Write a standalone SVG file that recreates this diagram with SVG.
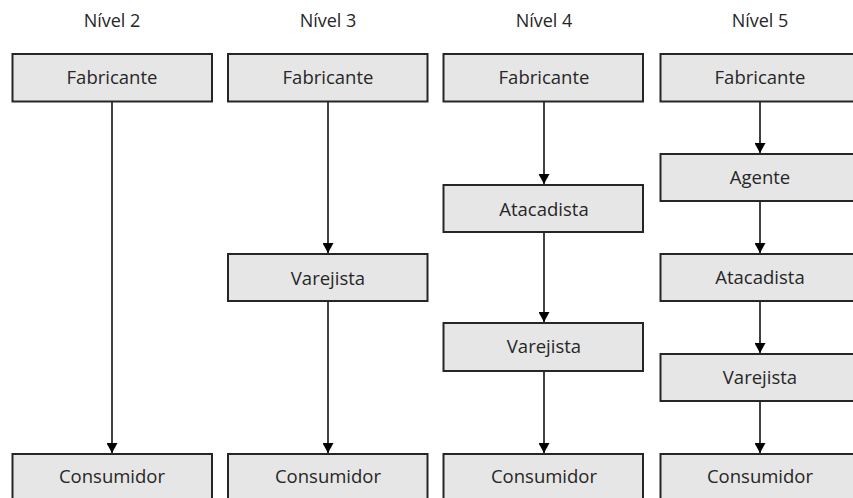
<svg xmlns="http://www.w3.org/2000/svg" width="853" height="498" viewBox="0 0 853 498">
<style>
.box{fill:#e6e6e6;stroke:#262626;stroke-width:2}
.t{font-family:"Open Sans","Liberation Sans",sans-serif;font-size:18.5px;fill:#262626;text-anchor:middle;dominant-baseline:central}
.h{font-family:"Open Sans","Liberation Sans",sans-serif;font-size:18px;fill:#262626;text-anchor:middle;dominant-baseline:central}
.c{stroke:#000;stroke-width:1.5;fill:none;marker-end:url(#ah)}
</style>
<defs>
<marker id="ah" markerWidth="11" markerHeight="11" refX="10" refY="5.5" orient="auto" markerUnits="userSpaceOnUse" viewBox="0 0 10 11">
<path d="M0,0 L10,5.5 L0,11 Z" fill="#000"/>
</marker>
</defs>
<rect width="853" height="498" fill="#fff"/>
<g id="headers">
<text class="h" x="112" y="20">Nível 2</text>
<text class="h" x="328" y="20">Nível 3</text>
<text class="h" x="544" y="20">Nível 4</text>
<text class="h" x="760" y="20">Nível 5</text>
</g>
<g id="connectors">
<line class="c" x1="112" y1="101.5" x2="112" y2="453"/>
<line class="c" x1="328" y1="101.5" x2="328" y2="253"/>
<line class="c" x1="328" y1="301" x2="328" y2="453"/>
<line class="c" x1="544" y1="101.5" x2="544" y2="184"/>
<line class="c" x1="544" y1="232" x2="544" y2="322"/>
<line class="c" x1="544" y1="371" x2="544" y2="453"/>
<line class="c" x1="760" y1="101.5" x2="760" y2="153"/>
<line class="c" x1="760" y1="201" x2="760" y2="253"/>
<line class="c" x1="760" y1="301" x2="760" y2="353"/>
<line class="c" x1="760" y1="401" x2="760" y2="453"/>
</g>
<g id="n2-fab"><rect class="box" x="12.5" y="54" width="199.5" height="47.5"/><text class="t" x="112" y="76">Fabricante</text></g>
<g id="n2-con"><rect class="box" x="12.5" y="454" width="199.5" height="47.5"/><text class="t" x="112" y="475">Consumidor</text></g>
<g id="n3-fab"><rect class="box" x="228" y="54" width="199.5" height="47.5"/><text class="t" x="328" y="76">Fabricante</text></g>
<g id="n3-var"><rect class="box" x="228" y="254" width="199.5" height="47"/><text class="t" x="328" y="277">Varejista</text></g>
<g id="n3-con"><rect class="box" x="228" y="454" width="199.5" height="47.5"/><text class="t" x="328" y="475">Consumidor</text></g>
<g id="n4-fab"><rect class="box" x="443.5" y="54" width="199.5" height="47.5"/><text class="t" x="544" y="76">Fabricante</text></g>
<g id="n4-ata"><rect class="box" x="443.5" y="185" width="199.5" height="47"/><text class="t" x="544" y="208">Atacadista</text></g>
<g id="n4-var"><rect class="box" x="443.5" y="323" width="199.5" height="48"/><text class="t" x="544" y="345">Varejista</text></g>
<g id="n4-con"><rect class="box" x="443.5" y="454" width="199.5" height="47.5"/><text class="t" x="544" y="475">Consumidor</text></g>
<g id="n5-fab"><rect class="box" x="660.5" y="54" width="200" height="47.5"/><text class="t" x="760" y="76">Fabricante</text></g>
<g id="n5-age"><rect class="box" x="660.5" y="154" width="200" height="47"/><text class="t" x="760" y="176">Agente</text></g>
<g id="n5-ata"><rect class="box" x="660.5" y="254" width="200" height="47"/><text class="t" x="760" y="276">Atacadista</text></g>
<g id="n5-var"><rect class="box" x="660.5" y="354" width="200" height="47"/><text class="t" x="760" y="376">Varejista</text></g>
<g id="n5-con"><rect class="box" x="660.5" y="454" width="200" height="47.5"/><text class="t" x="760" y="475">Consumidor</text></g>
</svg>
